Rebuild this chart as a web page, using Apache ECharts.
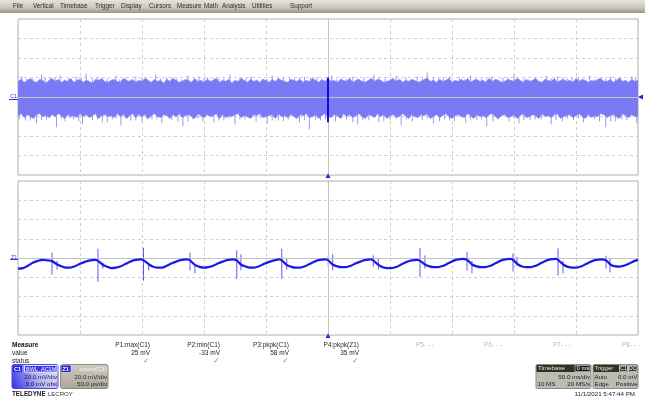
<!DOCTYPE html>
<html>
<head>
<meta charset="utf-8">
<script src="https://cdn.jsdelivr.net/npm/echarts@6/dist/echarts.min.js"></script>
<style>
html,body{margin:0;padding:0;background:#fff;}
#c{width:645px;height:402px;}
</style>
</head>
<body>
<div id="c"></div>
<script>
// ---------- DATA ----------
const menuItems = ['File','Vertical','Timebase','Trigger','Display','Cursors','Measure','Math','Analysis','Utilities','Support'];
// C1: 50 ms/div, 20 mV/div. Dense noise envelope sampled every 2.5 ms from -250 ms (201 samples)
const noiseStartMs = -250, noiseStepMs = 2.5;
const noiseMax = [16,18,15,17,19,16,15,18,17,14, 17,19,16,18,15,17,16,19,15,17,
  18,15,17,16,14,18,17,19,16,15, 17,18,16,15,19,17,16,18,15,17,
  16,19,17,15,18,16,17,14,18,16, 19,17,15,16,18,17,15,19,16,17,
  15,18,16,17,19,15,17,16,18,14, 17,16,19,17,15,18,16,17,15,18,
  17,15,18,16,19,17,16,15,18,17, 16,18,15,17,16,19,17,15,18,16,
  19,16,17,15,18,17,16,19,15,17, 18,16,15,17,19,16,18,17,15,16,
  17,19,16,18,15,17,16,18,17,15, 16,18,19,16,17,15,18,16,17,19,
  15,17,16,18,16,19,15,17,18,16, 17,15,19,16,18,17,15,16,18,17,
  16,19,17,15,18,16,17,19,16,15, 18,17,16,19,15,17,18,16,17,15,
  19,16,18,17,15,17,16,18,19,16, 16,18,15,17,19,16,17,15,18,16, 17];
const noiseMin = [-19,-17,-21,-18,-20,-22,-18,-17,-20,-19, -21,-18,-20,-17,-19,-22,-18,-20,-19,-21,
  -17,-20,-18,-21,-19,-17,-22,-19,-18,-20, -19,-21,-17,-20,-18,-22,-19,-17,-21,-18,
  -20,-18,-22,-19,-17,-20,-21,-18,-19,-22, -18,-20,-17,-21,-19,-18,-20,-22,-17,-19,
  -21,-18,-20,-19,-17,-22,-18,-21,-19,-20, -18,-17,-21,-19,-20,-22,-18,-19,-17,-21,
  -20,-19,-18,-22,-17,-20,-19,-21,-18,-20, -22,-18,-19,-17,-21,-20,-18,-22,-19,-17,
  -20,-21,-18,-19,-22,-17,-20,-18,-21,-19, -17,-20,-22,-18,-19,-21,-17,-20,-18,-22,
  -19,-18,-21,-20,-17,-19,-22,-18,-20,-21, -18,-19,-17,-22,-20,-18,-21,-19,-17,-20,
  -22,-19,-18,-20,-21,-17,-19,-22,-18,-20, -19,-21,-18,-17,-20,-22,-19,-18,-21,-20,
  -18,-22,-19,-17,-21,-20,-18,-19,-22,-17, -20,-19,-21,-18,-17,-22,-20,-19,-18,-21,
  -19,-17,-20,-22,-18,-21,-19,-20,-17,-18, -21,-19,-18,-20,-22,-17,-19,-21,-18,-20, -20];
// C1 noise spikes beyond the dense band (time ms, peak mV)
const noiseUpT = [-247,-238,-231,-224,-216,-209,-203,-195,-186,-178,-171,-163,-155,-146,-139,-130,-122,-113,-104,-97,
  -88,-79,-71,-62,-53,-45,-36,-27,-19,-9,3,11,20,29,37,46,55,63,72,80,
  89,98,106,115,124,132,141,150,158,167,176,185,193,202,211,219,228,236,245];
const noiseUpV = [21,19,23,20,22,19,21,24,20,19, 22,20,21,19,23,20,19,22,21,20,
  19,23,20,21,19,22,20,19,21,20, 22,19,21,20,23,19,22,20,21,25,
  19,21,20,22,19,21,20,23,19,20, 22,21,19,20,22,19,21,20,21];
const noiseUpT2 = [-243,-228,-212,-199,-182,-168,-150,-135,-118,-100,-84,-66,-49,-31,-14,7,24,41,59,76,93,110,128,145,162,180,197,215,232,248,
  -220,-190,-159,-126,-92,-57,-23,15,51,85,119,154,189,224];
const noiseUpV2 = [19,20,18,20,19,18,20,19,18,20,19,20,18,19,20,18,19,20,18,19,20,18,19,20,18,19,20,18,19,20,
  20,19,18,20,19,18,20,19,18,20,19,18,20,19];
const noiseDnT = [-244,-235,-227,-219,-212,-205,-198,-190,-182,-174,-167,-159,-150,-142,-134,-126,-117,-109,-101,-92,
  -84,-75,-67,-58,-49,-40,-32,-23,-15,-6,6,15,24,33,41,50,59,68,76,85,
  94,102,111,120,128,137,146,154,163,172,180,189,198,206,215,224,232,241,249];
const noiseDnV = [-24,-27,-23,-31,-25,-23,-28,-24,-26,-23, -29,-24,-25,-23,-27,-24,-30,-23,-25,-26,
  -24,-28,-23,-25,-27,-24,-23,-26,-33,-24, -25,-23,-28,-24,-26,-23,-29,-25,-24,-27,
  -23,-25,-26,-24,-30,-23,-25,-27,-24,-23, -28,-25,-24,-26,-23,-31,-25,-24,-27];
const noiseDnT2 = [-249,-231,-215,-201,-186,-171,-155,-138,-121,-105,-88,-71,-54,-36,-19,-2,11,28,45,63,80,98,115,133,150,167,184,202,219,237,
  -240,-208,-178,-146,-113,-80,-45,-10,20,55,90,124,158,193,228];
const noiseDnV2 = [-23,-24,-22,-25,-23,-22,-24,-23,-25,-22,-24,-23,-22,-25,-24,-23,-22,-24,-25,-23,-22,-24,-23,-25,-22,-23,-24,-22,-25,-23,
  -24,-22,-26,-23,-25,-22,-24,-23,-26,-22,-25,-23,-24,-22,-25];
// zoom window marker on C1 (t = 0 ms), mV range
const zoomMarkT = [0, 0];
const zoomMarkV = [20, -26];
// Z1: zoom of C1, 50 us/div, 20 mV/div
const zoomTime = [-250,-246,-242,-238,-234,-230,-226,-223,
  -218,-215,-211.5,-208,-204,-200,-196,-192,-188,-186,
  -181,-178,-174.5,-171,-167,-163,-159,-155,-151,-149.3,
  -144,-141,-137.5,-134,-130,-126,-122,-118,-114,-111.8,
  -107,-104,-100,-96.5,-92.5,-88.5,-84.5,-80.5,-76.5,-74.1,
  -70,-67,-63,-59.5,-55.5,-51.5,-47.5,-43.5,-39.5,-37.8,
  -33,-30,-26,-22.5,-18.5,-14.5,-10.5,-6.5,-2.5,-0.3,
  4,7,11,14.5,18.5,22.5,26.5,30.5,34.5,36,
  41,44,48,51.5,55.5,59.5,63.5,67.5,71.5,73.7,
  78.5,81.5,85.5,89,93,97,101,105,109,111.6,
  116.5,119.5,123.5,127,131,135,139,143,147,148.7,
  153,156,160,163.5,167.5,171.5,175.5,179.5,183.5,185,
  190,193,197,200.5,204.5,208.5,212.5,216.5,220.5,223.7,
  228,231,235,238.5,242.5,246.5,250];
const zoomVolt = [-11,-10.5,-8,-5,-3,-2,-2.5,-3,
  -7,-8.5,-10,-10,-8.5,-6,-4,-2.5,-2,-2.5,
  -7.5,-9,-10.5,-10,-8.5,-6,-3.5,-2,-1.5,-2,
  -7,-9,-10,-10,-8,-5.5,-3.5,-2,-1.5,-2,
  -7.5,-9,-10,-9.5,-8,-5.5,-3.5,-2,-1.5,-2,
  -7,-8.5,-10,-10,-8.5,-6,-4,-2.5,-1.5,-2,
  -7.5,-9,-10,-10,-8.5,-6,-3.5,-2,-1.5,-2,
  -7,-8.5,-9.5,-9.5,-8,-5.5,-3.5,-2,-1.5,-2,
  -7.5,-9.5,-10.5,-10.5,-9,-6.5,-4,-2.5,-2,-2.5,
  -7,-8.5,-9.5,-9.5,-8,-5.5,-3,-1.5,-1,-1.5,
  -7,-8.5,-9.5,-9.5,-8,-5.5,-3,-1.5,-1,-1.5,
  -6.5,-8.5,-9.5,-9.5,-8,-5.5,-3,-1.5,-1,-1.5,
  -7,-9,-10,-10,-8.5,-6,-3.5,-2,-1.5,-2,
  -7,-8.5,-9,-8,-6,-3.5,-2];
// switching spikes on Z1
const spikeTime = [-222.6,-218.5,-185.5,-181.5,-148.8,-144.6,-111.3,-107.3,-73.6,-70.2,-37.3,-33.3,0.2,3.8,36.5,40.6,74.2,78.2,112.1,116.1,149.2,152.4,185.5,189.5,224.2,227.4];
const spikeHigh = [5.5,-2.8,9.6,-5,10.7,-5,5.5,-6,8,3.7,9.6,-0.7,2.7,3.7,2.7,-0.7,10.4,2.7,6.5,-2.8,4.5,1.3,10,-2.8,2.4,-0.7];
const spikeLow = [-17.3,-12,-24.6,-11,-23.5,-13,-13,-16,-21.5,-12.8,-21.5,-12,-9,-12.8,-9,-12,-19.4,-11,-13,-16,-14,-8,-18.3,-16,-11,-15];
// measurements
const measureNames = ['P1:max(C1)','P2:min(C1)','P3:pkpk(C1)','P4:pkpk(Z1)','P5- - -','P6- - -','P7- - -','P8- - -'];
const measureValues = ['25 mV','-33 mV','58 mV','35 mV','','','',''];
const measureOk = [true,true,true,true,false,false,false,false];
// axis settings
const xRange = [-250, 250], xStep = 50;
const yRange = [-80, 80], yStep = 20;

// ---------- CHART ----------
const FONT = '"Liberation Sans", Arial, sans-serif';
const chart = echarts.init(document.getElementById('c'), null, {renderer:'canvas'});

function T(x, y, text, o) {
  return {type:'text', x:x, y:y, silent:true, z:100,
    style:Object.assign({text:text, fill:'#222', font:'6.5px ' + FONT, align:'left', verticalAlign:'middle'}, o || {})};
}
function R(x, y, w, h, fill, o) {
  return Object.assign({type:'rect', silent:true, z:90, shape:{x:x, y:y, width:w, height:h, r:(o && o.r) || 0},
    style:Object.assign({fill:fill}, (o && o.style) || {})});
}

const gridStyle = {lineStyle:{color:'#d0d0d0', type:[3,3], width:1}};
function xAx(i){return {gridIndex:i,type:'value',min:xRange[0],max:xRange[1],interval:xStep,
  axisLine:{show:false},axisTick:{show:false},axisLabel:{show:false},splitLine:Object.assign({show:true},gridStyle)};}
function yAx(i){return {gridIndex:i,type:'value',min:yRange[0],max:yRange[1],interval:yStep,
  axisLine:{show:false},axisTick:{show:false},axisLabel:{show:false},splitLine:Object.assign({show:true},gridStyle)};}

const centerMark = {silent:true, symbol:'none', label:{show:false},
  lineStyle:{color:'#c4c4c4', type:'solid', width:1},
  data:[{xAxis:0},{yAxis:0}], animation:false};

const graphics = [];
graphics.push({type:'rect', silent:true, z:80, shape:{x:0,y:0,width:645,height:13},
  style:{fill:new echarts.graphic.LinearGradient(0,0,0,1,[{offset:0,color:'#e6e3dc'},{offset:0.6,color:'#cbc6ba'},{offset:1,color:'#9a9486'}])}});
const menuX = [13,33,60,95,121,149,177,204,222,252,290];
menuItems.forEach((m,i)=>graphics.push(T(menuX[i], 6, m, {fill:'#2a2a2a', font:'6.3px ' + FONT})));

graphics.push(T(10, 96, 'C1', {fill:'#3333dd', font:'5.5px ' + FONT}));
graphics.push({type:'line', silent:true, z:90, shape:{x1:9,y1:99.5,x2:18,y2:99.5}, style:{stroke:'#3333dd', lineWidth:1}});
graphics.push(T(11, 257, 'Z1', {fill:'#3333dd', font:'5.5px ' + FONT}));
graphics.push({type:'line', silent:true, z:90, shape:{x1:10,y1:259.5,x2:18,y2:259.5}, style:{stroke:'#3333dd', lineWidth:1}});
graphics.push({type:'polygon', silent:true, z:90, shape:{points:[[638,97],[643,94.5],[643,99.5]]}, style:{fill:'#2222dd'}});
graphics.push({type:'polygon', silent:true, z:90, shape:{points:[[328,173.5],[325.5,178],[330.5,178]]}, style:{fill:'#2222dd'}});
graphics.push({type:'polygon', silent:true, z:90, shape:{points:[[328,333.5],[325.5,338],[330.5,338]]}, style:{fill:'#2222dd'}});

graphics.push(T(12, 345, 'Measure', {font:'bold 6.5px ' + FONT, fill:'#111'}));
graphics.push(T(12, 353, 'value', {fill:'#222'}));
graphics.push(T(12, 361.5, 'status', {fill:'#222'}));
const measX = [150,220,289,359,434,502,571,640];
measureNames.forEach((n,i)=>{
  graphics.push(T(measX[i], 345, n, {align:'right', fill: measureOk[i] ? '#2a2a2a' : '#b8b8b8'}));
  if (measureValues[i]) graphics.push(T(measX[i], 353, measureValues[i], {align:'right', fill:'#222'}));
  if (measureOk[i]) graphics.push(T(measX[i]-1, 361.5, '\u2713', {align:'right', fill:'#e040e0', font:'bold 7px "DejaVu Sans", sans-serif'}));
});

graphics.push({type:'rect', silent:true, z:88, shape:{x:12,y:364.5,width:46,height:24,r:2},
  style:{fill:new echarts.graphic.LinearGradient(1,0,0,1,[{offset:0,color:'#e0e0f6'},{offset:0.45,color:'#b8b8f0'},{offset:1,color:'#2a2ae8'}]), stroke:'#4a4ae0', lineWidth:1}});
graphics.push(R(13,365.5,9,6.5,'#2323e0'));
graphics.push(T(14, 369, 'C1', {fill:'#fff', font:'bold 5.5px ' + FONT}));
graphics.push(R(24.5,365.5,32.5,6.5,'#3a3ae4', {style:{stroke:'#fff', lineWidth:0.8}}));
graphics.push(T(26, 369, 'BWL  AC1M', {fill:'#fff', font:'5.5px ' + FONT}));
graphics.push(T(57, 377.5, '20.0 mV/div', {align:'right', fill:'#1a1a50', font:'6.2px ' + FONT}));
graphics.push(T(57, 384.5, '0.0 mV ofst', {align:'right', fill:'#10104a', font:'6.2px ' + FONT}));

graphics.push({type:'rect', silent:true, z:88, shape:{x:60.5,y:364.5,width:47.5,height:24,r:2},
  style:{fill:new echarts.graphic.LinearGradient(0,0,0,1,[{offset:0,color:'#cfcbc2'},{offset:1,color:'#aaa69b'}]), stroke:'#8e8a80', lineWidth:1}});
graphics.push(R(61.5,365.5,9,6.5,'#2323e0'));
graphics.push(T(62.5, 369, 'Z1', {fill:'#fff', font:'bold 5.5px ' + FONT}));
graphics.push(T(107, 369, 'zoom(C1)', {align:'right', fill:'#f4f4f4', font:'6.2px ' + FONT}));
graphics.push(T(107, 377.5, '20.0 mV/div', {align:'right', fill:'#2a2a2a', font:'6.2px ' + FONT}));
graphics.push(T(107, 384.5, '50.0 \u00b5s/div', {align:'right', fill:'#2a2a2a', font:'6.2px ' + FONT}));

graphics.push(T(12, 394, 'TELEDYNE', {font:'bold 6.3px ' + FONT, fill:'#1a1a1a'}));
graphics.push(T(48, 394, 'LECROY', {font:'6px ' + FONT, fill:'#333'}));

graphics.push({type:'rect', silent:true, z:88, shape:{x:536,y:364.5,width:55,height:24,r:1.5},
  style:{fill:'#bdbcb4', stroke:'#8a8a80', lineWidth:1}});
graphics.push(R(536.5,365,54,7,'#2d3327'));
graphics.push(T(538, 368.7, 'Timebase', {fill:'#d8f0c8', font:'6.2px ' + FONT}));
graphics.push(R(575,365.5,15,6,'#1a1a1a', {style:{stroke:'#e8e8e8', lineWidth:0.6}}));
graphics.push(T(589.5, 368.7, '0 ms', {align:'right', fill:'#fff', font:'6px ' + FONT}));
graphics.push(T(590, 377.5, '50.0 ms/div', {align:'right', fill:'#222', font:'6.2px ' + FONT}));
graphics.push(T(537.5, 384.5, '10 MS', {fill:'#222', font:'6.2px ' + FONT}));
graphics.push(T(590, 384.5, '20 MS/s', {align:'right', fill:'#222', font:'6.2px ' + FONT}));

graphics.push({type:'rect', silent:true, z:88, shape:{x:593,y:364.5,width:45,height:24,r:1.5},
  style:{fill:'#bdbcb4', stroke:'#8a8a80', lineWidth:1}});
graphics.push(R(593.5,365,44,7,'#2d3327'));
graphics.push(T(594.5, 368.7, 'Trigger', {fill:'#d8f0c8', font:'6px ' + FONT}));
graphics.push(R(619.5,365.6,8,5.8,'#2d3327', {style:{stroke:'#fff', lineWidth:0.7}}));
graphics.push(T(623.5, 368.7, 'C1', {align:'center', fill:'#fff', font:'5px ' + FONT}));
graphics.push(R(628.5,365.6,8.5,5.8,'#2d3327', {style:{stroke:'#fff', lineWidth:0.7}}));
graphics.push(T(632.7, 368.7, 'DC', {align:'center', fill:'#fff', font:'5px ' + FONT}));
graphics.push(T(594.5, 377.5, 'Auto', {fill:'#222', font:'6.2px ' + FONT}));
graphics.push(T(637.5, 377.5, '0.0 mV', {align:'right', fill:'#222', font:'6.2px ' + FONT}));
graphics.push(T(594.5, 384.5, 'Edge', {fill:'#222', font:'6.2px ' + FONT}));
graphics.push(T(637.5, 384.5, 'Positive', {align:'right', fill:'#222', font:'6.2px ' + FONT}));

graphics.push(T(635, 394.5, '11/1/2021 5:47:44 PM', {align:'right', fill:'#222', font:'6.2px ' + FONT}));

function vline(color, width) {
  return function(params, api){
    const a = api.coord([api.value(0), api.value(1)]);
    const b = api.coord([api.value(0), api.value(2)]);
    return {type:'line', shape:{x1:a[0], y1:a[1], x2:b[0], y2:b[1]}, style:{stroke:color, lineWidth:width}};
  };
}
const upSpikes = noiseUpT.map((t,i)=>[t, noiseUpV[i], 0]).concat(noiseUpT2.map((t,i)=>[t, noiseUpV2[i], 0]));
const dnSpikes = noiseDnT.map((t,i)=>[t, noiseDnV[i], 0]).concat(noiseDnT2.map((t,i)=>[t, noiseDnV2[i], 0]));

const option = {
  animation:false,
  backgroundColor:'#ffffff',
  grid:[
    {left:18, top:19, width:620, height:156, show:true, borderColor:'#b2b2b2', borderWidth:1, backgroundColor:'#fff'},
    {left:18, top:181, width:620, height:154, show:true, borderColor:'#b2b2b2', borderWidth:1, backgroundColor:'#fff'}
  ],
  xAxis:[xAx(0), xAx(1)],
  yAxis:[yAx(0), yAx(1)],
  graphic:graphics,
  series:[
    {type:'custom', xAxisIndex:0, yAxisIndex:0, clip:true, z:2, data:upSpikes, renderItem:vline('#9898f7', 1)},
    {type:'custom', xAxisIndex:0, yAxisIndex:0, clip:true, z:2, data:dnSpikes, renderItem:vline('#9898f7', 1)},
    {type:'custom', xAxisIndex:0, yAxisIndex:0, data:[0], clip:true, z:3,
      markLine:centerMark,
      renderItem:function(params, api){
        const n = Math.min(noiseMax.length, noiseMin.length);
        const pts = [];
        for (let i=0;i<n;i++) pts.push(api.coord([noiseStartMs + i*noiseStepMs, noiseMax[i]]));
        for (let i=n-1;i>=0;i--) pts.push(api.coord([noiseStartMs + i*noiseStepMs, noiseMin[i]]));
        return {type:'polygon', shape:{points:pts}, style:{fill:'#7a7af5', stroke:'#8080f6', lineWidth:0.8}};
      }},
    {type:'line', xAxisIndex:0, yAxisIndex:0, z:5, showSymbol:false, symbol:'none',
      data:zoomMarkT.map((t,i)=>[t, zoomMarkV[i]]),
      lineStyle:{color:'#1010d8', width:2}},
    {type:'custom', xAxisIndex:1, yAxisIndex:1, clip:true, z:4,
      markLine:centerMark,
      data:spikeTime.map((t,i)=>[t, spikeHigh[i], spikeLow[i]]),
      renderItem:vline('#5c5cee', 1)},
    {type:'line', xAxisIndex:1, yAxisIndex:1, z:5, showSymbol:false, symbol:'none', smooth:0.35,
      data:zoomTime.map((t,i)=>[t, zoomVolt[i]]),
      lineStyle:{color:'#1a1ae6', width:2.2}}
  ]
};
chart.setOption(option);
</script>
</body>
</html>
